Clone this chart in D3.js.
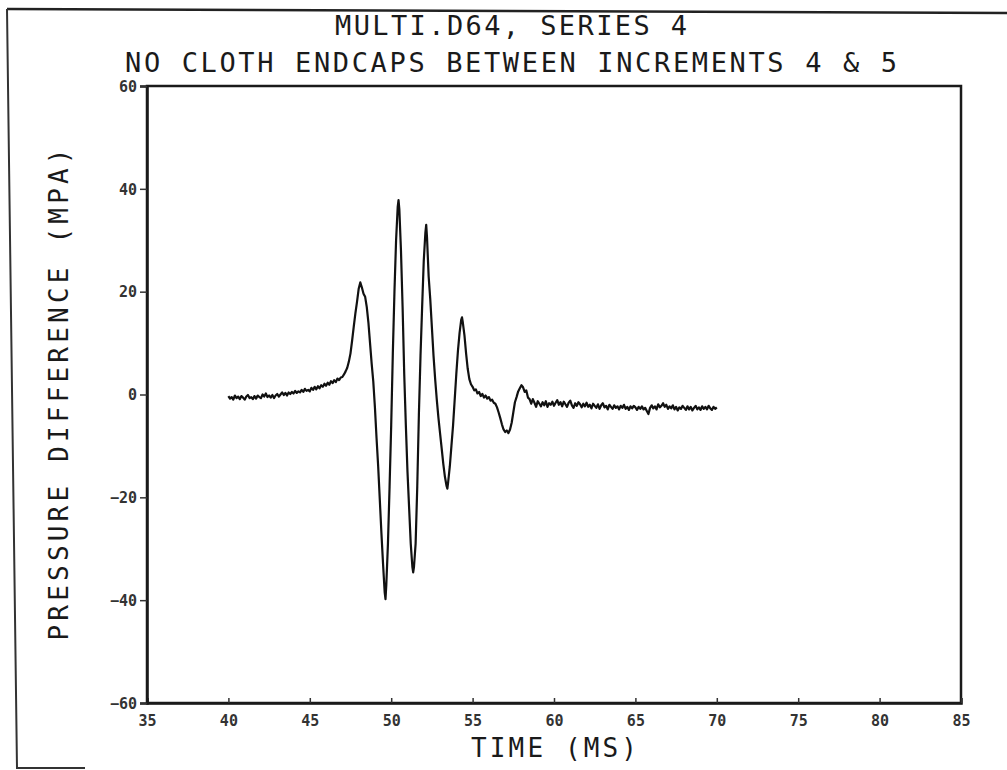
<!DOCTYPE html>
<html>
<head>
<meta charset="utf-8">
<script src="https://cdn.jsdelivr.net/npm/d3@7"></script>
<style>
  body { margin: 0; background: #fff; }
  svg { display: block; }
</style>
</head>
<body>
<script>
// page + plot box
var w = 1007;
var h = 770;
var margin = {top: 86, right: 46, bottom: 67, left: 147};

// titles / axis texts
var titleLines = ["MULTI.D64, SERIES 4", "NO CLOTH ENDCAPS BETWEEN INCREMENTS 4 & 5"];
var xLabel = "TIME (MS)";
var yLabel = "PRESSURE DIFFERENCE  (MPA)";

// ticks
var xTicks = [35, 40, 45, 50, 55, 60, 65, 70, 75, 80, 85];
var yTicks = [-60, -40, -20, 0, 20, 40, 60];

// trace, [time ms, pressure MPa]
var preEvent = [
  [40.0,-0.3],[40.1,-0.8],[40.2,-0.5],[40.3,-1.0],[40.4,-0.2],[40.5,-0.7],[40.6,-0.4],[40.7,-0.9],
  [40.8,-0.3],[40.9,-0.6],[41.0,-1.0],[41.1,-0.4],[41.2,-0.1],[41.3,-0.7],[41.4,-0.5],[41.5,-0.9],
  [41.6,-0.3],[41.7,-0.8],[41.8,-0.2],[41.9,-0.5],[42.0,-0.7],[42.1,0.0],[42.2,-0.4],[42.3,0.2],
  [42.4,-0.5],[42.5,-0.2],[42.6,-0.6],[42.7,-0.1],[42.8,-0.7],[42.9,-0.2],[43.0,0.1],[43.1,-0.4],
  [43.2,0.0],[43.3,0.4],[43.4,-0.1],[43.5,0.3],[43.6,-0.2],[43.7,0.4],[43.8,0.1],[43.9,0.5],
  [44.0,0.2],[44.1,0.7],[44.2,0.3],[44.3,0.6],[44.4,0.4],[44.5,0.9],[44.6,0.5],[44.7,1.1],
  [44.8,0.7],[44.9,0.9],[45.0,0.6],[45.1,1.3],[45.2,0.9],[45.3,1.5],[45.4,1.0],[45.5,1.6],
  [45.6,1.2],[45.7,1.8],[45.8,1.5],[45.9,2.1],[46.0,1.7],[46.1,2.3],[46.2,1.9],[46.3,2.6],
  [46.4,2.2],[46.5,2.8],[46.6,2.4],[46.7,3.1],[46.8,2.8],[46.9,3.3],[47.0,3.4]
];
var mainPulse = [
  [47.1,3.9],[47.2,4.5],[47.3,5.2],[47.4,6.4],[47.5,8.0],[47.6,10.5],[47.7,13.2],[47.8,15.8],
  [47.9,18.0],[48.0,20.5],[48.1,21.8],[48.2,20.8],[48.3,19.6],[48.4,19.0],[48.5,17.0],[48.6,14.0],
  [48.7,10.0],[48.8,6.0],[48.9,2.5],[49.0,-2.5],[49.1,-8.5],[49.2,-14.0],[49.3,-20.5],[49.4,-27.0],
  [49.5,-33.0],[49.6,-38.5],[49.65,-39.8],[49.7,-37.0],[49.8,-29.0],[49.9,-18.0],[50.0,-6.0],
  [50.1,8.0],[50.2,20.0],[50.3,30.0],[50.4,36.5],[50.45,37.8],[50.5,36.0],[50.6,28.0],[50.7,17.0],
  [50.8,4.0],[50.9,-6.0],[51.0,-15.0],[51.1,-22.0],[51.2,-29.0],[51.3,-33.5],[51.35,-34.6],
  [51.4,-33.5],[51.5,-29.0],[51.6,-18.0],[51.7,-4.0],[51.8,7.5],[51.9,17.0],[52.0,26.0],
  [52.1,31.5],[52.15,33.0],[52.2,30.5],[52.3,23.0],[52.4,18.5],[52.5,13.0],[52.6,7.5],[52.7,3.0],
  [52.8,-1.0],[52.9,-4.5],[53.0,-7.5],[53.1,-10.5],[53.2,-13.5],[53.3,-16.0],[53.4,-17.8],
  [53.45,-18.3],[53.5,-17.0],[53.6,-14.0],[53.7,-10.0],[53.8,-6.0],[53.9,-1.0],[54.0,4.0],
  [54.1,8.5],[54.2,12.0],[54.3,14.5],[54.35,15.0],[54.4,14.0],[54.5,11.5],[54.6,8.0],[54.7,5.0],
  [54.8,3.0],[54.9,2.0],[55.0,1.5],[55.1,0.8],[55.2,1.0],[55.3,0.2],[55.4,0.5],[55.5,-0.3],
  [55.6,0.1],[55.7,-0.6],[55.8,-0.2],[55.9,-0.8],[56.0,-0.5],[56.1,-1.2],[56.2,-1.0],[56.3,-1.6],
  [56.4,-1.8],[56.5,-2.5],[56.6,-3.5],[56.7,-4.6],[56.8,-5.8],[56.9,-6.8],[57.0,-7.3],[57.1,-7.0],
  [57.2,-7.5],[57.3,-6.8],[57.4,-5.5],[57.5,-3.5],[57.6,-1.5],[57.7,-0.5],[57.8,0.6],[57.9,1.2],
  [58.0,1.8],[58.1,1.4],[58.2,0.5],[58.3,0.8],[58.4,-0.6],[58.5,-0.9],[58.6,-1.8],[58.7,-0.9],
  [58.8,-1.6],[58.9,-2.4],[59.0,-1.3]
];
var tail = [
  [59.1,-1.8],[59.2,-2.3],[59.3,-1.5],[59.4,-2.1],[59.5,-1.3],[59.6,-2.4],[59.7,-1.7],[59.8,-2.0],
  [59.9,-1.4],[60.0,-2.2],[60.1,-1.6],[60.2,-1.1],[60.3,-2.0],[60.4,-1.5],[60.5,-2.3],[60.6,-1.4],
  [60.7,-1.9],[60.8,-2.4],[60.9,-1.6],[61.0,-1.2],[61.1,-2.1],[61.2,-2.6],[61.3,-1.7],[61.4,-2.2],
  [61.5,-1.5],[61.6,-1.9],[61.7,-2.5],[61.8,-1.8],[61.9,-2.3],[62.0,-1.6],[62.1,-2.4],[62.2,-2.0],
  [62.3,-2.7],[62.4,-1.8],[62.5,-2.2],[62.6,-2.6],[62.7,-1.9],[62.8,-2.8],[62.9,-2.1],[63.0,-1.7],
  [63.1,-2.5],[63.2,-2.2],[63.3,-2.9],[63.4,-2.0],[63.5,-2.4],[63.6,-2.8],[63.7,-2.1],[63.8,-2.6],
  [63.9,-2.3],[64.0,-2.9],[64.1,-2.2],[64.2,-2.6],[64.3,-2.0],[64.4,-2.8],[64.5,-2.4],[64.6,-3.0],
  [64.7,-2.3],[64.8,-2.7],[64.9,-2.2],[65.0,-2.5],[65.1,-3.0],[65.2,-2.4],[65.3,-2.8],[65.4,-2.3],
  [65.5,-2.9],[65.6,-2.6],[65.7,-3.2],[65.8,-3.8],[65.9,-2.6],[66.0,-2.1],[66.1,-2.7],[66.2,-2.3],
  [66.3,-2.9],[66.4,-1.9],[66.5,-2.5],[66.6,-2.2],[66.7,-1.7],[66.8,-2.4],[66.9,-2.0],[67.0,-2.8],
  [67.1,-2.3],[67.2,-2.7],[67.3,-2.1],[67.4,-2.9],[67.5,-2.4],[67.6,-3.1],[67.7,-2.5],[67.8,-2.8],
  [67.9,-2.2],[68.0,-2.6],[68.1,-3.0],[68.2,-2.3],[68.3,-2.9],[68.4,-2.4],[68.5,-3.1],[68.6,-2.6],
  [68.7,-2.2],[68.8,-2.9],[68.9,-2.5],[69.0,-3.0],[69.1,-2.3],[69.2,-2.8],[69.3,-2.4],[69.4,-2.9],
  [69.5,-2.2],[69.6,-2.7],[69.7,-3.0],[69.8,-2.4],[69.9,-2.8],[70.0,-2.5]
];

var trace = preEvent.concat(mainPulse, tail);

var svg = d3.select("body").append("svg")
  .attr("width", w)
  .attr("height", h);

// scanned sheet edge (decoration)
svg.append("path")
  .attr("d", "M7,9 L1007,13")
  .attr("stroke", "#222").attr("stroke-width", 2.5).attr("fill", "none");
svg.append("path")
  .attr("d", "M7,9 L17,768 L85,768")
  .attr("stroke", "#333").attr("stroke-width", 2).attr("fill", "none");

var x = d3.scaleLinear().domain([35, 85]).range([margin.left, w - margin.right]);
var y = d3.scaleLinear().domain([-60, 60]).range([h - margin.bottom, margin.top]);

var monoFont = "'DejaVu Sans Mono', 'Liberation Mono', monospace";

// box
svg.append("rect")
  .attr("x", x(35)).attr("y", y(60))
  .attr("width", x(85) - x(35)).attr("height", y(-60) - y(60))
  .attr("fill", "none").attr("stroke", "#1a1a1a").attr("stroke-width", 2.5);

// axes
var gx = svg.append("g")
  .attr("transform", "translate(0," + y(-60) + ")")
  .call(d3.axisBottom(x).tickValues(xTicks).tickSize(-5).tickPadding(12).tickFormat(d3.format("d")));
var gy = svg.append("g")
  .attr("transform", "translate(" + x(35) + ",0)")
  .call(d3.axisLeft(y).tickValues(yTicks).tickSize(7).tickPadding(3).tickFormat(d3.format("d")));

[gx, gy].forEach(function(g) {
  g.select(".domain").attr("stroke", "#1a1a1a").attr("stroke-width", 2.5);
  g.selectAll(".tick line").attr("stroke", "#333").attr("stroke-width", 1.5);
  g.selectAll(".tick text")
    .attr("fill", "#333")
    .style("font-family", monoFont)
    .style("font-size", "15px")
    .style("font-weight", "bold");
});
gy.selectAll(".tick text").attr("dy", "0.35em");

// trace
var line = d3.line()
  .x(function(d) { return x(d[0]); })
  .y(function(d) { return y(d[1]); });

svg.append("path")
  .datum(trace)
  .attr("d", line)
  .attr("fill", "none")
  .attr("stroke", "#111")
  .attr("stroke-width", 2.2)
  .attr("stroke-linejoin", "round");

// titles
var titleLen = [352, 772];
svg.selectAll(".title")
  .data(titleLines)
  .enter()
  .append("text")
  .attr("class", "title")
  .attr("x", 511)
  .attr("y", function(d, i) { return 35 + i * 37; })
  .attr("text-anchor", "middle")
  .attr("textLength", function(d, i) { return titleLen[i]; })
  .attr("lengthAdjust", "spacing")
  .attr("fill", "#1a1a1a")
  .style("font-family", monoFont)
  .style("font-size", "27px")
  .text(function(d) { return d; });

svg.append("text")
  .attr("x", (x(35) + x(85)) / 2)
  .attr("y", 757)
  .attr("text-anchor", "middle")
  .attr("textLength", 166)
  .attr("lengthAdjust", "spacing")
  .attr("fill", "#1a1a1a")
  .style("font-family", monoFont)
  .style("font-size", "26px")
  .text(xLabel);

svg.append("text")
  .attr("transform", "translate(68," + y(0) + ") rotate(-90)")
  .attr("text-anchor", "middle")
  .attr("textLength", 492)
  .attr("lengthAdjust", "spacing")
  .attr("fill", "#1a1a1a")
  .style("font-family", monoFont)
  .style("font-size", "26px")
  .text(yLabel);
</script>
</body>
</html>
